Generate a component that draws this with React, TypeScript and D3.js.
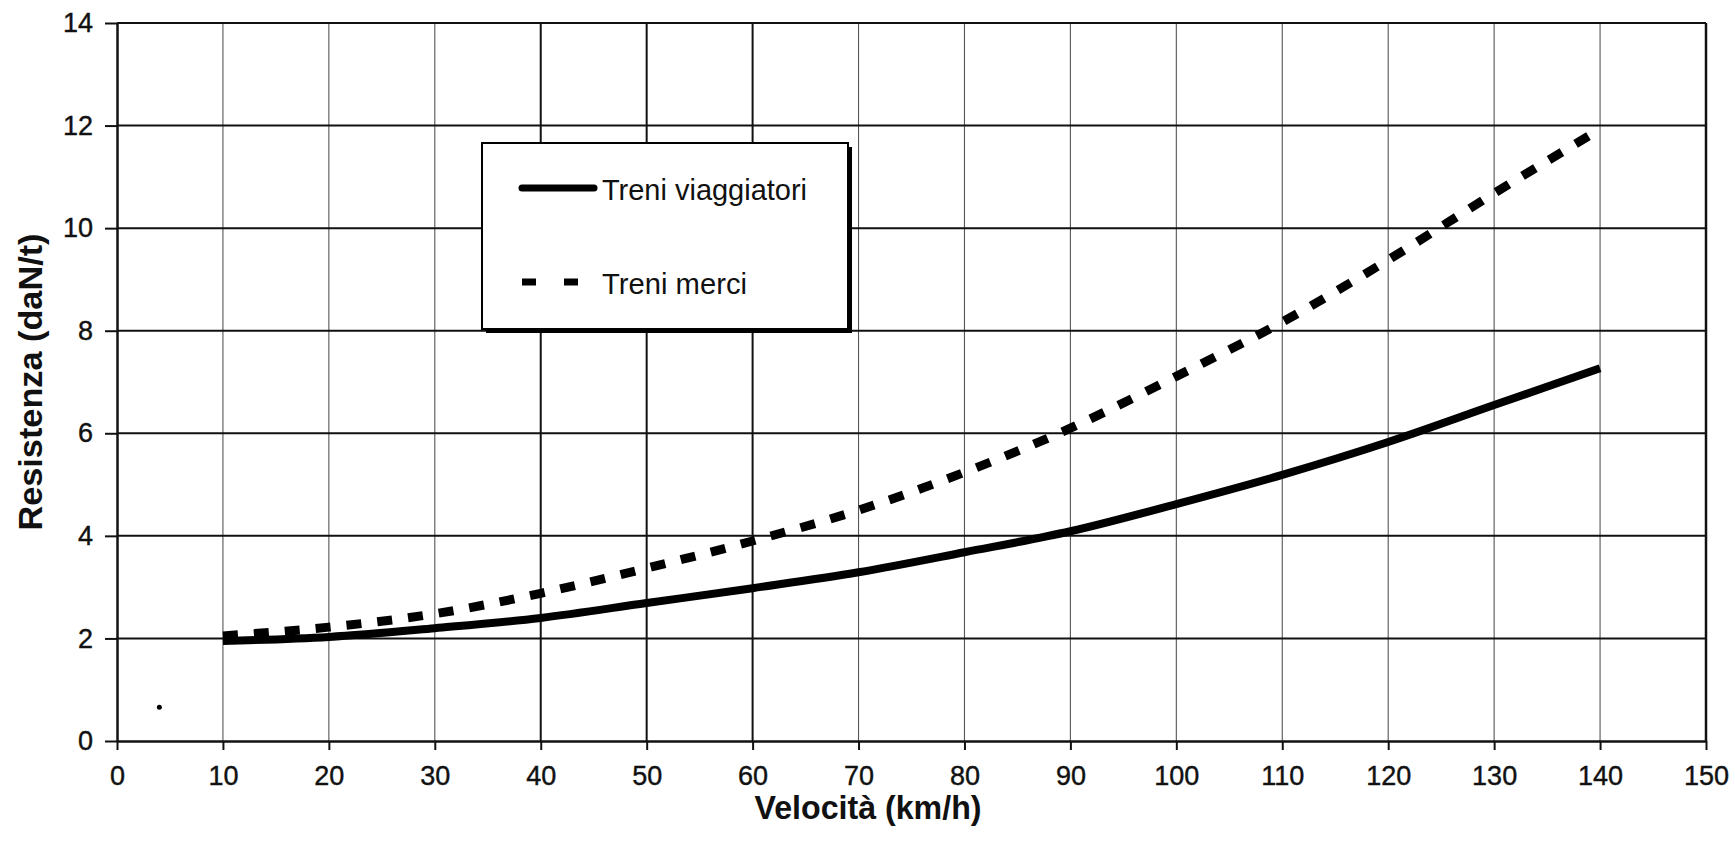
import { useEffect, useRef } from "react";
import * as d3 from "d3";

// Velocità (km/h) at which each curve was read
const speeds = [10, 20, 30, 40, 50, 60, 70, 80, 90, 100, 110, 120, 130, 140];
// Resistenza (daN/t)
const treniViaggiatori = [1.95, 2.03, 2.2, 2.4, 2.69, 2.98, 3.29, 3.68, 4.09, 4.62, 5.19, 5.83, 6.55, 7.27];
const treniMerci = [2.05, 2.22, 2.48, 2.88, 3.37, 3.9, 4.5, 5.24, 6.1, 7.11, 8.17, 9.38, 10.68, 11.93];

const xTicks = d3.range(0, 151, 10);
const yTicks = d3.range(0, 15, 2);
// stray speck on the scanned page
const strayPoint = { x: 4, y: 0.66 };

const series = [
  { name: "Treni viaggiatori", values: treniViaggiatori, dash: null as string | null, textLen: 205 },
  { name: "Treni merci", values: treniMerci, dash: "15,16", textLen: 145 },
];

const W = 1735;
const H = 844;
const FONT = "'Liberation Sans', Arial, sans-serif";

export default function App() {
  const svgRef = useRef<SVGSVGElement>(null);

  useEffect(() => {
    document.body.style.margin = "0";
    if (!svgRef.current) return;
    const svg = d3.select(svgRef.current);
    svg.selectAll("*").remove();

    const margin = { top: 23, right: 29, bottom: 103, left: 117 };
    const width = W - margin.left - margin.right;
    const height = H - margin.top - margin.bottom;

    const x = d3.scaleLinear().domain([0, 150]).range([0, width]);
    const y = d3.scaleLinear().domain([0, 14]).range([height, 0]);

    svg.append("rect").attr("width", W).attr("height", H).attr("fill", "#fff");

    const g = svg
      .append("g")
      .attr("transform", `translate(${margin.left},${margin.top})`);

    // vertical grid (thin; 40-60 came out darker on the scan)
    g.append("g")
      .selectAll("line")
      .data(xTicks.filter((d) => d > 0 && d < 150))
      .join("line")
      .attr("x1", (d) => x(d))
      .attr("x2", (d) => x(d))
      .attr("y1", 0)
      .attr("y2", height)
      .attr("stroke", (d) => (d >= 40 && d <= 60 ? "#111" : "#555"))
      .attr("stroke-width", (d) => (d >= 40 && d <= 60 ? 2 : 1.1));

    // horizontal grid
    g.append("g")
      .selectAll("line")
      .data(yTicks.filter((d) => d > 0))
      .join("line")
      .attr("x1", 0)
      .attr("x2", width)
      .attr("y1", (d) => y(d))
      .attr("y2", (d) => y(d))
      .attr("stroke", "#111")
      .attr("stroke-width", 2);

    // right border
    g.append("line")
      .attr("x1", width)
      .attr("x2", width)
      .attr("y1", 0)
      .attr("y2", height)
      .attr("stroke", "#111")
      .attr("stroke-width", 2.5);

    // X axis
    const xAxis = g
      .append("g")
      .attr("transform", `translate(0,${height})`)
      .call(d3.axisBottom(x).tickValues(xTicks).tickSize(9).tickPadding(16).tickSizeOuter(0));
    // Y axis
    const yAxis = g
      .append("g")
      .call(d3.axisLeft(y).tickValues(yTicks).tickSize(12).tickPadding(12).tickSizeOuter(0));

    [xAxis, yAxis].forEach((a) => {
      a.select(".domain").attr("stroke", "#111").attr("stroke-width", 2.5);
      a.selectAll(".tick line").attr("stroke", "#111").attr("stroke-width", 2);
      a.selectAll(".tick text")
        .attr("fill", "#111")
        .attr("stroke", "#111")
        .attr("stroke-width", 0.4)
        .attr("font-family", FONT)
        .attr("font-size", "27px");
    });

    // curves
    const line = d3
      .line<number>()
      .x((_, i) => x(speeds[i]))
      .y((d) => y(d))
      .curve(d3.curveMonotoneX);

    series.forEach((s) => {
      g.append("path")
        .datum(s.values)
        .attr("fill", "none")
        .attr("stroke", "#000")
        .attr("stroke-width", s.dash ? 9 : 8)
        .attr("stroke-dasharray", s.dash ?? null)
        .attr("stroke-linecap", "butt")
        .attr("d", line);
    });

    g.append("circle")
      .attr("cx", x(strayPoint.x))
      .attr("cy", y(strayPoint.y))
      .attr("r", 2.5)
      .attr("fill", "#000");

    // legend
    const lg = svg.append("g").attr("transform", "translate(482,143)");
    const lw = 366;
    const lh = 186;
    lg.append("rect")
      .attr("x", 4)
      .attr("y", 4)
      .attr("width", lw)
      .attr("height", lh)
      .attr("fill", "#000");
    lg.append("rect")
      .attr("width", lw)
      .attr("height", lh)
      .attr("fill", "#fff")
      .attr("stroke", "#000")
      .attr("stroke-width", 2);

    series.forEach((s, i) => {
      const cy = 45 + i * 94;
      lg.append("line")
        .attr("x1", 40)
        .attr("x2", s.dash ? 97 : 112)
        .attr("y1", cy)
        .attr("y2", cy)
        .attr("stroke", "#000")
        .attr("stroke-width", 7)
        .attr("stroke-linecap", s.dash ? "butt" : "round")
        .attr("stroke-dasharray", s.dash ? "14,28" : null);
      lg.append("text")
        .attr("x", 120)
        .attr("y", cy + 12)
        .attr("font-family", FONT)
        .attr("font-size", "30px")
        .attr("textLength", s.textLen)
        .attr("lengthAdjust", "spacingAndGlyphs")
        .attr("fill", "#111")
        .text(s.name);
    });

    // axis titles
    svg.append("text")
      .attr("x", 868)
      .attr("y", 819)
      .attr("text-anchor", "middle")
      .attr("font-family", FONT)
      .attr("font-weight", "bold")
      .attr("font-size", "34px")
      .attr("textLength", 227)
      .attr("lengthAdjust", "spacingAndGlyphs")
      .attr("fill", "#111")
      .text("Velocità (km/h)");

    svg.append("text")
      .attr("transform", `translate(42,${margin.top + height / 2}) rotate(-90)`)
      .attr("text-anchor", "middle")
      .attr("font-family", FONT)
      .attr("font-weight", "bold")
      .attr("font-size", "34px")
      .attr("textLength", 297)
      .attr("lengthAdjust", "spacingAndGlyphs")
      .attr("fill", "#111")
      .text("Resistenza (daN/t)");
  }, []);

  return <svg ref={svgRef} width={W} height={H} style={{ display: "block" }} />;
}
